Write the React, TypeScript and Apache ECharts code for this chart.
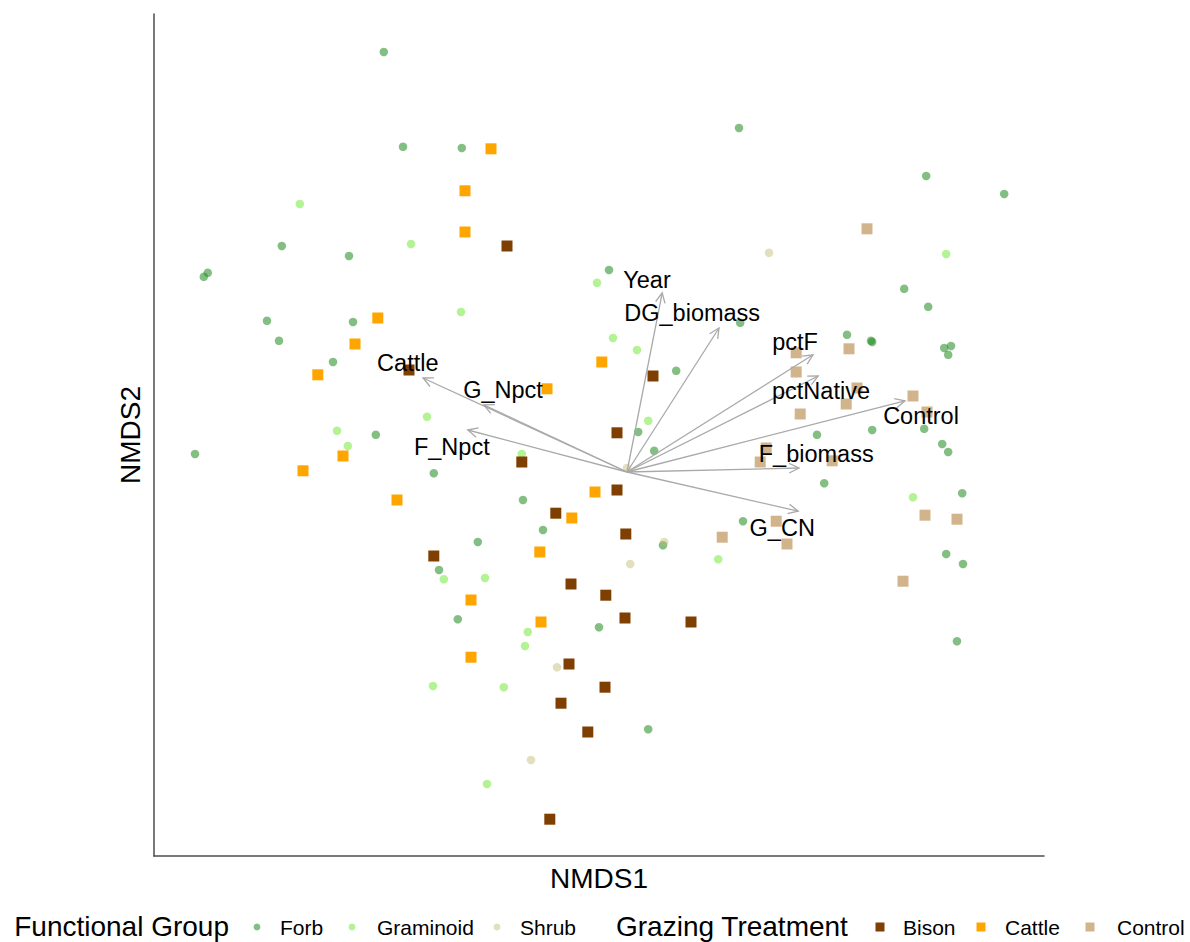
import React, { useEffect, useRef } from "react";
import * as echarts from "echarts";

// NMDS site / species scores (NMDS1, NMDS2)
const forb: [number, number][] = [
  [-0.608, 1.05], [-0.56, 0.813], [-0.413, 0.81], [-0.863, 0.565], [-0.695, 0.54],
  [-1.058, 0.488], [-1.048, 0.498], [-0.9, 0.378], [-0.685, 0.375], [-0.87, 0.328],
  [-0.735, 0.275], [-0.628, 0.093], [-1.08, 0.045], [-0.483, -0.003], [-0.26, -0.07],
  [-0.21, -0.145], [-0.373, -0.175], [-0.47, -0.245], [-0.423, -0.368], [-0.07, -0.388],
  [0.09, -0.183], [0.28, 0.86], [0.748, 0.74], [0.943, 0.695], [-0.045, 0.505],
  [0.693, 0.458], [0.753, 0.413], [0.283, 0.373], [0.55, 0.343], [0.61, 0.328],
  [0.613, 0.325], [0.793, 0.31], [0.81, 0.315], [0.803, 0.293], [0.123, 0.253],
  [0.028, 0.1], [0.068, 0.053], [0.475, 0.093], [0.613, 0.105], [0.743, 0.108],
  [0.788, 0.07], [0.803, 0.05], [0.493, -0.028], [0.838, -0.053], [0.29, -0.123],
  [0.798, -0.205], [0.84, -0.23], [0.053, -0.643], [0.825, -0.423],
];
const graminoid: [number, number][] = [
  [-0.818, 0.67], [-0.54, 0.57], [-0.075, 0.473], [-0.415, 0.4], [-0.5, 0.138],
  [-0.725, 0.103], [-0.698, 0.065], [-0.263, 0.045], [-0.458, -0.268], [-0.355, -0.265],
  [-0.248, -0.4], [-0.255, -0.435], [-0.485, -0.535], [-0.308, -0.538], [-0.35, -0.78],
  [-0.035, 0.335], [0.025, 0.305], [0.053, 0.128], [0.798, 0.545], [0.715, -0.063],
  [0.228, -0.218],
];
const shrub: [number, number][] = [
  [0.355, 0.548], [0.093, -0.175], [0.008, -0.23], [-0.175, -0.488], [-0.24, -0.72], [0.0, 0.01],
];
const bison: [number, number][] = [
  [-0.3, 0.565], [-0.545, 0.255], [0.065, 0.24], [-0.025, 0.098], [-0.263, 0.025],
  [-0.025, -0.045], [-0.178, -0.103], [-0.003, -0.155], [-0.483, -0.21], [-0.14, -0.28],
  [-0.053, -0.308], [-0.005, -0.365], [0.16, -0.375], [-0.145, -0.48], [-0.055, -0.538],
  [-0.165, -0.578], [-0.098, -0.65], [-0.193, -0.868],
];
const cattle: [number, number][] = [
  [-0.34, 0.808], [-0.405, 0.703], [-0.405, 0.6], [-0.623, 0.385], [-0.68, 0.32],
  [-0.773, 0.243], [-0.2, 0.208], [-0.063, 0.275], [-0.71, 0.04], [-0.81, 0.003],
  [-0.575, -0.07], [-0.08, -0.05], [-0.138, -0.115], [-0.218, -0.2], [-0.39, -0.32],
  [-0.215, -0.375], [-0.39, -0.463],
];
const control: [number, number][] = [
  [0.6, 0.608], [0.423, 0.298], [0.555, 0.308], [0.423, 0.25], [0.575, 0.21],
  [0.433, 0.145], [0.548, 0.17], [0.715, 0.19], [0.75, 0.15], [0.348, 0.06],
  [0.333, 0.025], [0.513, 0.028], [0.373, -0.123], [0.4, -0.18], [0.238, -0.163],
  [0.745, -0.108], [0.825, -0.118], [0.69, -0.273],
];

// fitted environmental vectors
const vectorNames = ["Cattle", "G_Npct", "F_Npct", "Year", "DG_biomass", "pctF", "pctNative", "Control", "F_biomass", "G_CN"];
const vectorEnds: [number, number][] = [
  [-0.51, 0.235], [-0.358, 0.168], [-0.398, 0.105], [0.088, 0.448], [0.23, 0.36],
  [0.465, 0.293], [0.478, 0.24], [0.695, 0.178], [0.43, 0.01], [0.428, -0.098],
];
const vectorLabels: [number, number][] = [
  [-0.548, 0.273], [-0.31, 0.205], [-0.438, 0.063], [0.05, 0.48], [0.163, 0.398],
  [0.42, 0.325], [0.485, 0.203], [0.735, 0.14], [0.473, 0.045], [0.388, -0.14],
];

const groupNames = ["Forb", "Graminoid", "Shrub"];
const treatmentNames = ["Bison", "Cattle", "Control"];

const FONT = "'Liberation Sans', Arial, Helvetica, sans-serif";
const colForb = "rgba(34,139,34,0.56)";
const colGram = "rgba(140,236,90,0.65)";
const colShrub = "rgba(189,183,107,0.45)";
const colBison = "#7f3f00";
const colCattle = "#ffa500";
const colControl = "#d2b48c";

export default function App() {
  const ref = useRef<HTMLDivElement>(null);
  useEffect(() => {
    const chart = echarts.init(ref.current!, null, { renderer: "svg" });
    const arrowData = vectorEnds.map((e, i) => [e[0], e[1], vectorLabels[i][0], vectorLabels[i][1]]);
    const circleSeries = (name: string, data: [number, number][], color: string) => ({
      name, type: "scatter", data, symbol: "circle", symbolSize: 8.5,
      itemStyle: { color, opacity: 1 }, z: 2, silent: true,
    });
    const squareSeries = (name: string, data: [number, number][], color: string) => ({
      name, type: "scatter", data, symbol: "rect", symbolSize: 11,
      itemStyle: { color, opacity: 1 }, z: 3, silent: true,
    });
    const legendY = 926;
    const legendItems: any[] = [];
    const gx = [257, 352, 497];
    const gtx = [280, 377, 520];
    const gcol = [colForb, colGram, colShrub];
    groupNames.forEach((n, i) => {
      legendItems.push({ type: "circle", shape: { cx: gx[i], cy: legendY + 1, r: 3.4 }, style: { fill: gcol[i] } });
      legendItems.push({ type: "text", x: gtx[i], y: legendY + 1, style: { text: n, fill: "#000", fontSize: 21, fontFamily: FONT, align: "left", verticalAlign: "middle" } });
    });
    const tx = [880, 981, 1090];
    const ttx = [903, 1005, 1117];
    const tcol = [colBison, colCattle, colControl];
    treatmentNames.forEach((n, i) => {
      legendItems.push({ type: "rect", shape: { x: tx[i] - 4.5, y: legendY + 1 - 4.5, width: 9, height: 9 }, style: { fill: tcol[i] } });
      legendItems.push({ type: "text", x: ttx[i], y: legendY + 1, style: { text: n, fill: "#000", fontSize: 21, fontFamily: FONT, align: "left", verticalAlign: "middle" } });
    });
    legendItems.push({ type: "text", x: 229, y: legendY, style: { text: "Functional Group", fill: "#000", fontSize: 28, fontFamily: FONT, align: "right", verticalAlign: "middle" } });
    legendItems.push({ type: "text", x: 616, y: legendY, style: { text: "Grazing Treatment", fill: "#000", fontSize: 28, fontFamily: FONT, align: "left", verticalAlign: "middle" } });

    chart.setOption({
      animation: false,
      backgroundColor: "#ffffff",
      grid: { left: 154, top: 14, width: 890, height: 842, containLabel: false },
      xAxis: {
        type: "value", min: -1.1825, max: 1.0425,
        name: "NMDS1", nameLocation: "middle", nameGap: 8,
        nameTextStyle: { fontSize: 28, fontFamily: FONT, color: "#000", verticalAlign: "top" },
        axisLine: { show: true, onZero: false, lineStyle: { color: "#4d4d4d", width: 1.5 } },
        axisTick: { show: false }, axisLabel: { show: false }, splitLine: { show: false },
      },
      yAxis: {
        type: "value", min: -0.96, max: 1.145,
        name: "NMDS2", nameLocation: "middle", nameGap: 10, nameRotate: 90,
        nameTextStyle: { fontSize: 28, fontFamily: FONT, color: "#000" },
        axisLine: { show: true, onZero: false, lineStyle: { color: "#4d4d4d", width: 1.5 } },
        axisTick: { show: false }, axisLabel: { show: false }, splitLine: { show: false },
      },
      series: [
        circleSeries("Forb", forb, colForb),
        circleSeries("Graminoid", graminoid, colGram),
        circleSeries("Shrub", shrub, colShrub),
        squareSeries("Bison", bison, colBison),
        squareSeries("Cattle", cattle, colCattle),
        squareSeries("Control", control, colControl),
        {
          name: "vectors", type: "custom", z: 10, silent: true,
          data: arrowData,
          encode: { x: [0, 2], y: [1, 3] },
          renderItem: (params: any, api: any) => {
            const o = api.coord([0, 0]);
            const e = api.coord([api.value(0), api.value(1)]);
            const l = api.coord([api.value(2), api.value(3)]);
            const ang = Math.atan2(e[1] - o[1], e[0] - o[0]);
            const len = 11, spread = Math.PI / 7;
            const a1 = [e[0] - len * Math.cos(ang - spread), e[1] - len * Math.sin(ang - spread)];
            const a2 = [e[0] - len * Math.cos(ang + spread), e[1] - len * Math.sin(ang + spread)];
            return {
              type: "group",
              children: [
                { type: "line", shape: { x1: o[0], y1: o[1], x2: e[0], y2: e[1] }, style: { stroke: "#a9a9a9", lineWidth: 1.3 } },
                { type: "polyline", shape: { points: [a1, e, a2] }, style: { stroke: "#a9a9a9", lineWidth: 1.3, fill: "none" } },
                {
                  type: "text", x: l[0], y: l[1],
                  style: { text: vectorNames[params.dataIndex], fill: "#000", fontSize: 23.5, fontFamily: FONT, align: "center", verticalAlign: "middle" },
                },
              ],
            };
          },
        },
      ],
      graphic: legendItems,
    });
    return () => chart.dispose();
  }, []);
  return <div ref={ref} style={{ position: "fixed", left: 0, top: 0, width: 1190, height: 942 }} />;
}
